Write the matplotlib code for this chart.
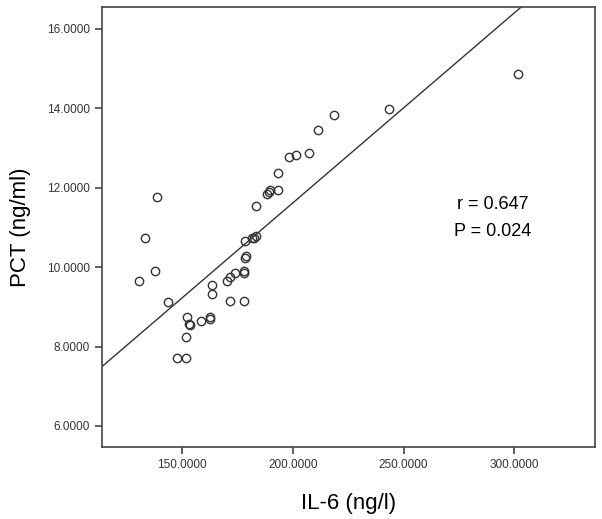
import matplotlib

matplotlib.use("Agg")
import matplotlib.pyplot as plt
import numpy as np

plt.rcParams["font.family"] = ["Liberation Sans", "DejaVu Sans"]

# IL-6 (ng/l) vs PCT (ng/ml)
il6 = [
    130.4, 133.2, 137.7, 138.4, 143.5, 147.5, 151.5, 151.7, 152.3, 153.2,
    153.5, 158.4, 162.3, 162.6, 163.5, 163.5, 170.3, 171.5, 171.5, 173.7,
    177.7, 177.7, 177.7, 178.5, 178.6, 178.5, 181.5, 182.4, 183.4, 183.2,
    188.3, 189.2, 189.8, 193.4, 193.4, 198.2, 201.6, 207.4, 211.4, 218.5,
    243.4, 301.5,
]
pct = [
    9.66, 10.74, 9.91, 11.77, 9.13, 7.70, 7.70, 8.25, 8.75, 8.58,
    8.55, 8.64, 8.70, 8.75, 9.56, 9.32, 9.66, 9.75, 9.14, 9.84,
    9.91, 9.84, 9.14, 10.24, 10.28, 10.66, 10.73, 10.74, 10.78, 11.54,
    11.84, 11.88, 11.94, 11.94, 12.37, 12.77, 12.83, 12.87, 13.46, 13.84,
    13.97, 14.87,
]

# fit line as drawn in the reference
slope = 0.0478
intercept = 2.06
r_text = "r = 0.647"
p_text = "P = 0.024"

x_ticks = [150, 200, 250, 300]
y_ticks = [6, 8, 10, 12, 14, 16]

fig = plt.figure(figsize=(6.02, 5.19), dpi=100)
ax = fig.add_axes([0.1694, 0.1387, 0.819, 0.8478])

xlim = (113.7, 336.5)
ylim = (5.47, 16.55)

xs = np.array(xlim)
ax.plot(xs, slope * xs + intercept, color="#333333", linewidth=1.0)

ax.plot(il6, pct, linestyle="none", marker="o", markersize=6,
        markerfacecolor="none", markeredgecolor="#333333", markeredgewidth=1.0)

ax.set_xlim(xlim)
ax.set_ylim(ylim)
ax.set_xticks(x_ticks)
ax.set_yticks(y_ticks)
ax.set_xticklabels([f"{v:.4f}" for v in x_ticks])
ax.set_yticklabels([f"{v:.4f}" for v in y_ticks])
ax.tick_params(direction="out", length=5, width=1.2, color="#444444",
               labelsize=8.5, labelcolor="#333333")

for spine in ax.spines.values():
    spine.set_color("#444444")
    spine.set_linewidth(1.2)

ax.set_xlabel("IL-6 (ng/l)", fontsize=16, labelpad=16)
ax.set_ylabel("PCT (ng/ml)", fontsize=16, labelpad=12)

ax.text(0.793, 0.552, r_text, transform=ax.transAxes, fontsize=13,
        ha="center", va="center")
ax.text(0.793, 0.489, p_text, transform=ax.transAxes, fontsize=13,
        ha="center", va="center")

fig.savefig("out.png", dpi=100)
